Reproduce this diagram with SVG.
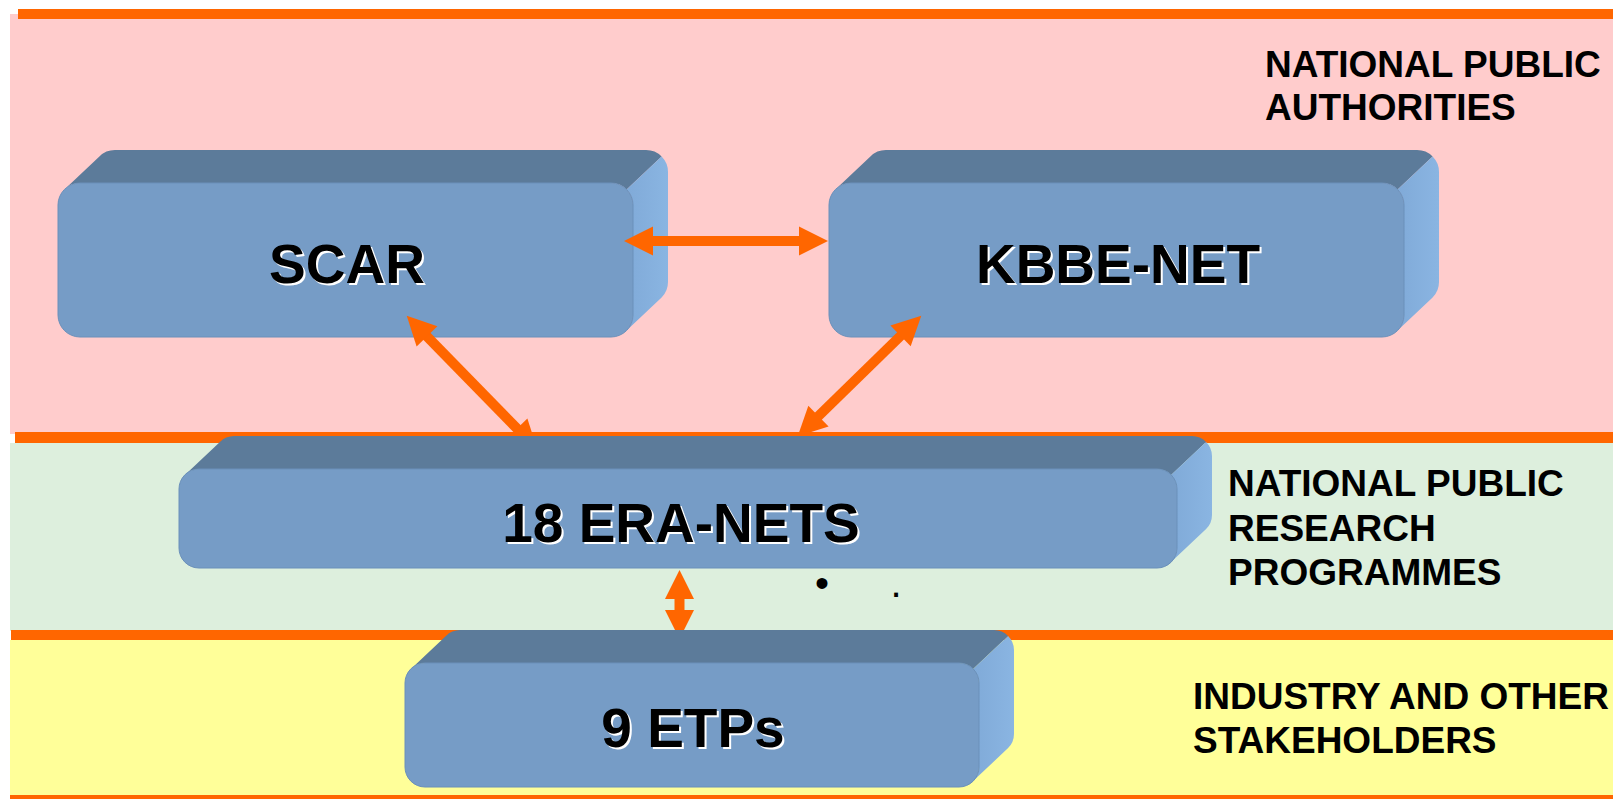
<svg xmlns="http://www.w3.org/2000/svg" width="1613" height="799" viewBox="0 0 1613 799">
<style>
.band-line{fill:#FF6600}
.front{fill:#769CC6;stroke:#6A90BA;stroke-width:1}
.top{fill:#5C7B9A}
.side{fill:url(#sideGrad)}
.lbl{font-family:"Liberation Sans",Arial,sans-serif;font-weight:bold;font-size:55px;text-anchor:middle}
.lbl-sh{fill:#FFFFFF}
.lbl-tx{fill:#000000}
.layer{font-family:"Liberation Sans",Arial,sans-serif;font-weight:bold;font-size:37px;fill:#000000}
.conn{stroke:#FF6600;stroke-width:10;fill:none;marker-start:url(#head);marker-end:url(#head)}
.dot{font-family:"Liberation Sans",Arial,sans-serif;font-size:40px;fill:#000000}
</style>
<defs>
<linearGradient id="sideGrad" x1="0" y1="0" x2="1" y2="0">
<stop offset="0" stop-color="#80AAD8"/>
<stop offset="1" stop-color="#8AB5E2"/>
</linearGradient>
<marker id="head" markerUnits="userSpaceOnUse" markerWidth="30" markerHeight="30" refX="1" refY="14.5" orient="auto-start-reverse" overflow="visible">
<path d="M0,0 L29,14.5 L0,29 Z" fill="#FF6600"/>
</marker>
</defs>
<rect x="0" y="0" width="1613" height="799" fill="#FFFFFF"/>
<g id="bands">
<rect x="10" y="14" width="1603" height="420" fill="#FFCCCC"/>
<rect x="10" y="443" width="1603" height="188" fill="#DDEFDD"/>
<rect x="10" y="640" width="1603" height="156" fill="#FFFF99"/>
<rect class="band-line" x="18" y="9" width="1595" height="10"/>
<rect class="band-line" x="15" y="432" width="1598" height="11"/>
<rect class="band-line" x="11" y="630" width="1602" height="10"/>
<rect class="band-line" x="10" y="795" width="1603" height="4"/>
</g>
<g id="layer-labels">
<text class="layer" x="1265" y="77">NATIONAL PUBLIC</text>
<text class="layer" x="1265" y="120">AUTHORITIES</text>
<text class="layer" x="1228" y="496">NATIONAL PUBLIC</text>
<text class="layer" x="1228" y="541">RESEARCH</text>
<text class="layer" x="1228" y="585">PROGRAMMES</text>
<text class="layer" x="1193" y="709">INDUSTRY AND OTHER</text>
<text class="layer" x="1193" y="753">STAKEHOLDERS</text>
</g>
<g id="node-scar">
<path class="top" d="M64.4,189.4 A22,22 0 0 1 80,183 L611,183 A22,22 0 0 1 626.6,189.4 L661.6,156.4 A22,22 0 0 0 646,150 L115,150 A22,22 0 0 0 99.4,156.4 Z"/>
<path class="side" d="M626.6,189.4 A22,22 0 0 1 633,205 L633,315 A22,22 0 0 1 626.6,330.6 L661.6,297.6 A22,22 0 0 0 668,282 L668,172 A22,22 0 0 0 661.6,156.4 Z"/>
<rect class="front" x="58" y="183" width="575" height="154" rx="22"/>
<text class="lbl lbl-sh" x="349" y="285">SCAR</text>
<text class="lbl lbl-tx" x="347" y="283">SCAR</text>
</g>
<g id="node-kbbe">
<path class="top" d="M835.4,189.4 A22,22 0 0 1 851,183 L1382,183 A22,22 0 0 1 1397.6,189.4 L1432.6,156.4 A22,22 0 0 0 1417,150 L886,150 A22,22 0 0 0 870.4,156.4 Z"/>
<path class="side" d="M1397.6,189.4 A22,22 0 0 1 1404,205 L1404,315 A22,22 0 0 1 1397.6,330.6 L1432.6,297.6 A22,22 0 0 0 1439,282 L1439,172 A22,22 0 0 0 1432.6,156.4 Z"/>
<rect class="front" x="829" y="183" width="575" height="154" rx="22"/>
<text class="lbl lbl-sh" x="1120" y="285">KBBE-NET</text>
<text class="lbl lbl-tx" x="1118" y="283">KBBE-NET</text>
</g>
<g id="connectors">
<line class="conn" x1="652" y1="241" x2="800" y2="241"/>
<line class="conn" x1="426.3" y1="335.7" x2="517.7" y2="429.3"/>
<line class="conn" x1="901.25" y1="335.25" x2="817.75" y2="416.75"/>
<line class="conn" x1="679.5" y1="598" x2="679.5" y2="611"/>
</g>
<g id="node-eranets">
<path class="top" d="M184.9,474.9 A20,20 0 0 1 199,469 L1157,469 A20,20 0 0 1 1171.1,474.9 L1206.1,441.9 A20,20 0 0 0 1192,436 L234,436 A20,20 0 0 0 219.9,441.9 Z"/>
<path class="side" d="M1171.1,474.9 A20,20 0 0 1 1177,489 L1177,548 A20,20 0 0 1 1171.1,562.1 L1206.1,529.1 A20,20 0 0 0 1212,515 L1212,456 A20,20 0 0 0 1206.1,441.9 Z"/>
<rect class="front" x="179" y="469" width="998" height="99" rx="20"/>
<text class="lbl lbl-sh" x="683" y="544">18 ERA-NETS</text>
<text class="lbl lbl-tx" x="681" y="542">18 ERA-NETS</text>
</g>
<g id="node-etps">
<path class="top" d="M410.9,668.9 A20,20 0 0 1 425,663 L959,663 A20,20 0 0 1 973.1,668.9 L1008.1,635.9 A20,20 0 0 0 994,630 L460,630 A20,20 0 0 0 445.9,635.9 Z"/>
<path class="side" d="M973.1,668.9 A20,20 0 0 1 979,683 L979,767 A20,20 0 0 1 973.1,781.1 L1008.1,748.1 A20,20 0 0 0 1014,734 L1014,650 A20,20 0 0 0 1008.1,635.9 Z"/>
<rect class="front" x="405" y="663" width="574" height="124" rx="20"/>
<text class="lbl lbl-sh" x="695" y="749">9 ETPs</text>
<text class="lbl lbl-tx" x="693" y="747">9 ETPs</text>
</g>
<g id="marks">
<text class="dot" x="822" y="597" text-anchor="middle">•</text>
<text class="dot" x="896" y="597" text-anchor="middle">.</text>
</g>
</svg>
